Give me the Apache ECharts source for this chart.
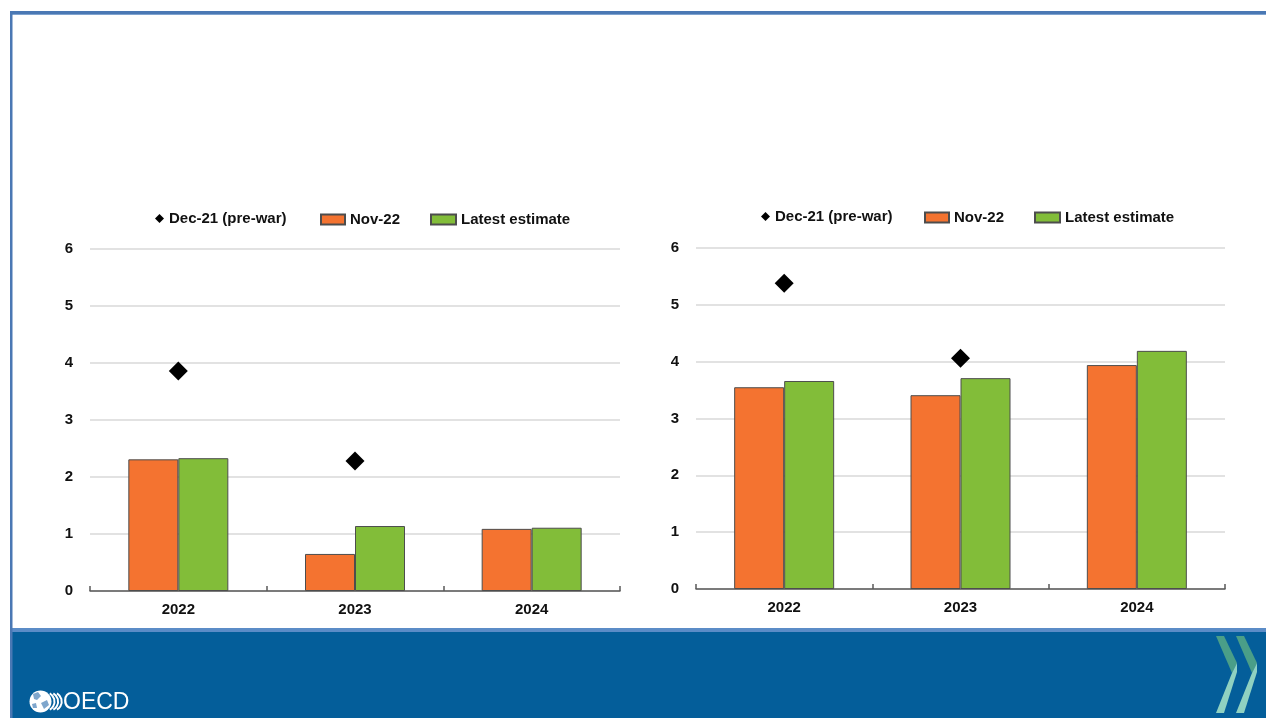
<!DOCTYPE html>
<html>
<head>
<meta charset="utf-8">
<script src="https://cdn.jsdelivr.net/npm/echarts@6/dist/echarts.min.js"></script>
<style>
html,body{margin:0;padding:0;background:#fff;}
#c{width:1266px;height:718px;}
</style>
</head>
<body>
<div id="c"></div>
<script>
const categories = ['2022', '2023', '2024'];
const yTicks = [0, 1, 2, 3, 4, 5, 6];
const seriesNames = ['Dec-21 (pre-war)', 'Nov-22', 'Latest estimate'];
// Left panel
const leftDec21 = [3.86, 2.28, '-'];
const leftNov22 = [2.31, 0.65, 1.09];
const leftLatest = [2.33, 1.14, 1.11];
// Right panel
const rightDec21 = [5.38, 4.06, '-'];
const rightNov22 = [3.55, 3.41, 3.94];
const rightLatest = [3.66, 3.71, 4.19];

const FONT = "'Liberation Sans Narrow', 'Arial Narrow', 'Liberation Sans', Arial, sans-serif";
const ORANGE = '#f47330';
const GREEN = '#82bd39';
const FOOTER = '#045e9a';

function xAxis(gi) {
  return {
    type: 'category', gridIndex: gi, data: categories,
    axisLine: { lineStyle: { color: '#5a5a5a', width: 1.5 } },
    axisTick: { show: true, inside: true, length: 5, lineStyle: { color: '#5a5a5a', width: 1.5 } },
    axisLabel: { color: '#111', fontFamily: FONT, fontWeight: 'bold', fontSize: 15, margin: 11 }
  };
}
function yAxis(gi) {
  return {
    type: 'value', gridIndex: gi, min: yTicks[0], max: yTicks[yTicks.length - 1], interval: 1,
    axisLine: { show: false }, axisTick: { show: false },
    splitLine: { lineStyle: { color: '#d9d9d9', width: 1.5 } },
    axisLabel: { color: '#111', fontFamily: FONT, fontWeight: 'bold', fontSize: 15, margin: 17 }
  };
}
function bars(gi, name, data, color) {
  return {
    type: 'bar', name: name, xAxisIndex: gi, yAxisIndex: gi, data: data,
    barWidth: 50, barGap: '0%',
    itemStyle: { color: color, borderColor: '#4d4d4d', borderWidth: 1 }
  };
}
function diamonds(gi, data) {
  return {
    type: 'scatter', name: seriesNames[0], xAxisIndex: gi, yAxisIndex: gi, data: data,
    symbol: 'diamond', symbolSize: 19, itemStyle: { color: '#000', opacity: 1 }, z: 5
  };
}
function legendItem(name, left, top, w, h) {
  return {
    data: [{ name: name, icon: name === seriesNames[0] ? 'diamond' : 'rect' }],
    left: left, top: top, itemWidth: w, itemHeight: h, padding: 0,
    textStyle: { fontFamily: FONT, fontWeight: 'bold', fontSize: 15, color: '#111' },
    selectedMode: false
  };
}

// OECD chevrons
function chevron(x0, dark, light) {
  return [
    { type: 'polygon', shape: { points: [[x0, 636], [x0 + 8, 636], [x0 + 21, 663], [x0 + 16, 673]] }, style: { fill: dark }, silent: true },
    { type: 'polygon', shape: { points: [[x0 + 16, 673], [x0 + 21, 663], [x0 + 21, 672], [x0 + 8, 713], [x0, 713]] }, style: { fill: light }, silent: true }
  ];
}
function arcs() {
  const out = [];
  for (let i = 0; i < 3; i++) {
    out.push({ type: 'arc', shape: { cx: 45 + i * 3.6, cy: 701.5, r: 9.5, startAngle: -Math.PI / 3, endAngle: Math.PI / 3 },
      style: { stroke: '#ffffff', lineWidth: 2, fill: null }, silent: true });
  }
  return out;
}

const chart = echarts.init(document.getElementById('c'), null, { renderer: 'canvas' });
chart.setOption({
  animation: false,
  backgroundColor: '#ffffff',
  grid: [
    { left: 90, right: 646, top: 249, bottom: 127 },
    { left: 696, right: 41, top: 248, bottom: 129 }
  ],
  xAxis: [xAxis(0), xAxis(1)],
  yAxis: [yAxis(0), yAxis(1)],
  legend: [
    legendItem(seriesNames[0], 155, 211, 9, 9),
    legendItem(seriesNames[1], 320, 212, 24, 10),
    legendItem(seriesNames[2], 430, 212, 25, 10),
    legendItem(seriesNames[0], 761, 209, 9, 9),
    legendItem(seriesNames[1], 924, 210, 24, 10),
    legendItem(seriesNames[2], 1034, 210, 25, 10)
  ],
  series: [
    bars(0, seriesNames[1], leftNov22, ORANGE),
    bars(0, seriesNames[2], leftLatest, GREEN),
    diamonds(0, leftDec21),
    bars(1, seriesNames[1], rightNov22, ORANGE),
    bars(1, seriesNames[2], rightLatest, GREEN),
    diamonds(1, rightDec21)
  ],
  graphic: [
    // slide frame
    { type: 'rect', shape: { x: 10, y: 11, width: 1256, height: 3 }, style: { fill: '#4a78b4' }, silent: true },
    { type: 'rect', shape: { x: 10, y: 14, width: 1256, height: 1 }, style: { fill: '#7fa3cf' }, silent: true },
    { type: 'rect', shape: { x: 10, y: 11, width: 2.5, height: 620 }, style: { fill: '#4a78b4' }, silent: true },
    // footer
    { type: 'rect', shape: { x: 10, y: 628, width: 1256, height: 90 }, style: { fill: FOOTER }, silent: true },
    { type: 'rect', shape: { x: 10, y: 628, width: 1256, height: 4 }, style: { fill: '#5b8cc7' }, silent: true },
    { type: 'rect', shape: { x: 10, y: 628, width: 2.5, height: 90 }, style: { fill: '#4a78b4' }, silent: true },
    // OECD logo: globe
    { type: 'circle', shape: { cx: 40.5, cy: 701.5, r: 11 }, style: { fill: '#ffffff' }, silent: true },
    { type: 'polygon', shape: { points: [[33, 694], [38, 692], [41, 696], [37, 700], [34, 699]] }, style: { fill: '#7fa6cc' }, silent: true },
    { type: 'polygon', shape: { points: [[41, 703], [47, 700], [49, 705], [44, 709]] }, style: { fill: '#7fa6cc' }, silent: true },
    { type: 'polygon', shape: { points: [[32, 704], [36, 703], [37, 708], [33, 708]] }, style: { fill: '#7fa6cc' }, silent: true },
    { type: 'text', style: { x: 63, y: 702.5, text: 'OECD', fill: '#ffffff', font: '23px ' + FONT, verticalAlign: 'middle' }, silent: true }
  ].concat(arcs()).concat(chevron(1216, '#4a9e88', '#8fd1c1')).concat(chevron(1236, '#4a9e88', '#8fd1c1'))
});
</script>
</body>
</html>
